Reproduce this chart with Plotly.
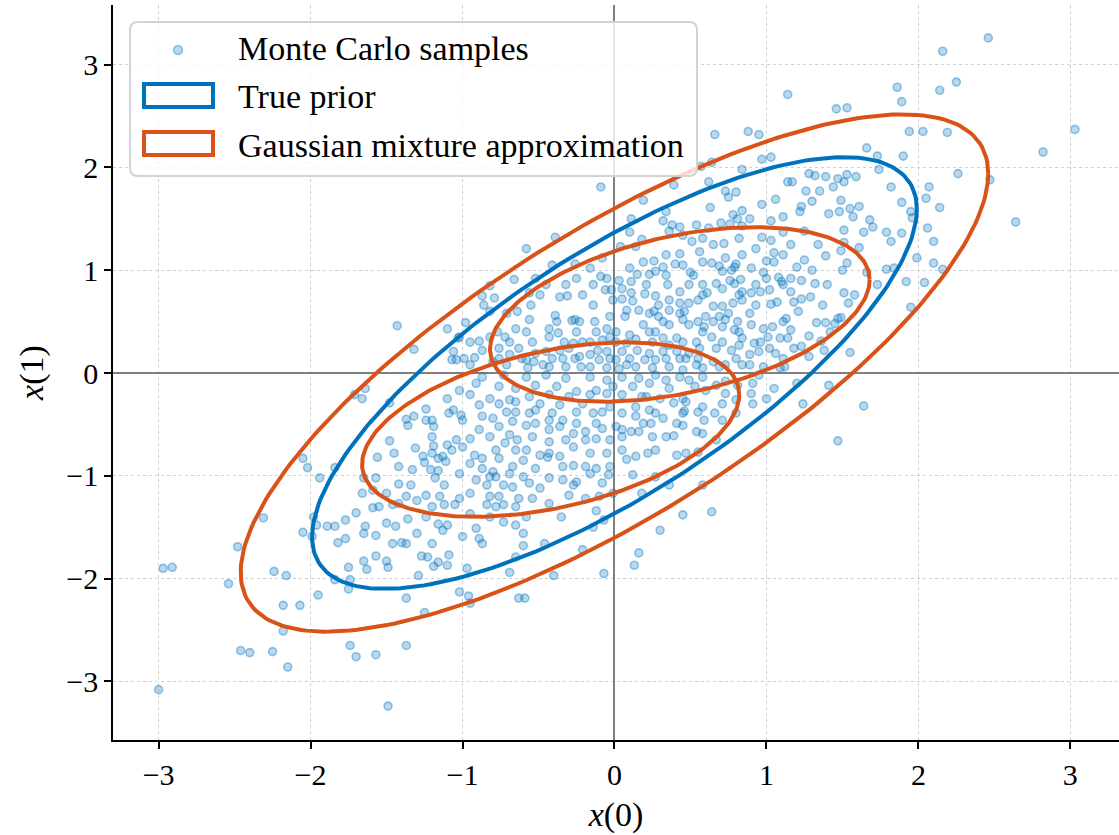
import numpy as np
import plotly.graph_objects as go

# ---------------- data ----------------
samples_outer = [(2.46,3.26),(2.16,3.13),(1.86,2.78),(1.89,2.64),(2.14,2.75),(2.25,2.83),(1.14,2.71),(1.46,2.57),(1.53,2.58),(1.94,2.35),(2.03,2.35),(2.19,2.34),(3.03,2.37),(2.82,2.15),(1.66,2.19),(1.73,2.11),(1.90,2.11),(1.74,1.98),(2.26,1.94),(2.47,1.88),(2.07,1.81),(1.82,1.81),(1.28,1.94),(1.32,1.92),(1.39,1.91),(1.47,1.89),(1.53,1.93),(1.59,1.91),(1.51,1.86),(1.17,1.86),(1.44,1.81),
(0.66,2.32),(0.88,2.35),(0.95,2.32),(0.97,2.08),(1.03,2.10),(0.57,2.01),(0.64,2.05),(0.84,1.98),(0.39,1.83),(0.62,1.86),(-0.09,1.81),(1.14,1.86),
(-1.43,0.46),(-1.32,0.23),(-1.10,0.43),(-1.07,0.13)]

samples_right = [(2.64,1.47),(2.14,1.61),(2.05,1.70),(1.89,1.66),(1.95,1.57),(1.96,1.51),(2.06,1.41),(2.10,1.28),(1.99,1.12),(2.10,1.07),(2.16,1.01),(2.04,0.88),(1.95,0.64),(1.92,0.89),(1.89,1.36),(1.79,1.37),(1.82,1.28),(1.79,1.01),(1.84,1.02),(1.73,0.86),(1.55,0.20),(1.68,1.49),(1.70,1.42),(1.64,1.37),(1.61,1.22),(1.66,0.98),(1.49,1.68),(1.55,1.60),(1.57,1.52),(1.61,1.62),(1.48,1.57),(1.41,1.55),(1.51,1.39),(1.51,1.27),(1.49,1.19),(1.39,1.14),(1.53,1.07),(1.50,1.00),(1.51,0.78),(1.54,0.68),(1.49,0.54),(1.37,0.66),(1.32,0.87),(1.30,1.00),(1.25,1.10),(1.20,1.03),(1.23,0.90),(1.29,0.74),(1.23,0.72),(1.18,0.69),(1.16,0.79),(1.16,1.25),(1.22,1.57),(1.23,1.62),(1.26,1.77),(1.30,1.67),(1.35,1.77),(1.13,0.53),(1.16,0.42),(1.14,0.34),(1.28,0.36),(1.33,0.49),(1.39,0.49),(1.36,0.31),(1.28,0.16),(1.18,0.24),(1.47,0.53),(1.12,0.06),(1.38,0.22),(1.23,0.26),(1.45,0.48),
(1.20,-0.10),(1.41,-0.12),(1.24,-0.30),(1.64,-0.32),(1.47,-0.66),
(1.34,1.25),(1.25,1.38),(1.40,0.86),(1.58,0.76),(1.42,0.40),(1.21,0.60),(1.16,0.92)]

samples_upper = [(0.73,1.77),(0.80,1.76),(0.75,1.71),(0.19,1.68),(0.63,1.61),(0.97,1.64),(1.06,1.69),(1.11,1.52),(0.84,1.58),(0.89,1.50),(0.81,1.50),(0.78,1.54),(0.34,1.57),(0.11,1.50),(0.32,1.48),(0.38,1.44),(0.43,1.42),(0.54,1.44),(0.62,1.41),(0.70,1.46),(0.76,1.45),(0.84,1.43),(1.03,1.48),(1.11,1.37),(0.97,1.32),(1.03,1.29),(-0.39,1.32),(-0.58,1.21),(0.10,1.37),(0.18,1.30),(0.04,1.23),(0.14,1.23),(0.36,1.38),(0.45,1.34),(0.51,1.28),(0.72,1.26),(0.58,1.31),(0.34,1.15),(0.43,1.16),(0.26,1.09),(0.32,1.03),(0.40,1.06),(0.50,0.98),(0.58,1.08),(0.64,1.07),(0.69,1.04),(0.73,1.12),(0.77,1.00),(0.79,1.03),(0.80,1.06),(0.84,1.15),(0.90,1.02),(1.05,1.08),(1.05,1.17),(1.00,1.09),(1.11,1.15),(0.98,0.98),(1.08,0.93),(1.11,0.86),(-0.41,1.05),(-0.26,1.06),(-0.66,0.91),(-0.82,0.85),(-0.87,0.75),(-0.79,0.73),(-0.86,0.66),(-0.56,0.78),(-0.49,0.76),(-0.36,0.74),(-0.31,0.75),(-0.09,0.94),(-0.06,0.81),(-0.02,0.81),(0.03,0.90),(0.11,0.89),(0.11,0.78),(0.05,0.72),(0.12,0.70),(0.20,0.77),(0.27,0.75),(0.35,0.86),(0.43,0.79),(0.23,0.96),(0.15,0.96),(0.27,0.99),(0.52,0.95),(0.58,0.86),(0.61,0.78),(0.67,0.87),(0.71,0.82),(0.76,0.90),(0.79,0.87),(0.83,0.91),(0.84,0.79),(0.90,0.78),(0.96,0.79),(1.02,0.81),(1.10,0.89),(1.07,0.69),(1.03,0.67),(0.93,0.66),(0.84,0.71),(0.78,0.68),(0.71,0.65),(0.65,0.65),(0.55,0.71),(0.49,0.68),(0.43,0.68),(0.43,0.58),(0.36,0.71),(0.36,0.61),(0.29,0.66),(0.23,0.58),(0.16,0.61),(0.08,0.61),(0.07,0.55),(-0.01,0.71),(-0.03,0.55),(-0.14,0.66),(-0.13,0.50),(-0.12,0.40),(-0.26,0.52),(-0.28,0.51),(-0.23,0.50),(-0.39,0.56),(-0.38,0.50),(-0.55,0.66),(-0.56,0.52),(-0.64,0.60),(-0.71,0.58),(-0.82,0.60),(-0.98,0.49),(-1.02,0.35),(-0.89,0.31),(-0.77,0.40),(-0.72,0.35),(-0.65,0.43),(-0.58,0.40),(-0.43,0.43),(-0.37,0.39),(-0.33,0.30),(-0.27,0.29),(-0.16,0.30),(-0.08,0.32),(-0.03,0.35),(0.01,0.30),(0.08,0.29),(0.14,0.33),(0.23,0.40),(0.27,0.40),(0.32,0.34),(0.41,0.34),(0.49,0.47),(0.59,0.45),(0.65,0.50),(0.73,0.52),(0.75,0.58),(0.81,0.50),(0.89,0.58),(0.98,0.43),(1.04,0.45),(1.11,0.50),(1.09,0.34),(1.02,0.24),(0.95,0.21),(0.89,0.18),(0.82,0.27),(0.77,0.22),(0.67,0.24),(0.64,0.35),(0.56,0.24),(0.55,0.14),(0.47,0.14),(0.41,0.21),(0.32,0.21),(0.23,0.19),(0.15,0.22),(0.10,0.14),(0.05,0.21),(-0.03,0.14),(-0.10,0.13),(-0.16,0.18),(-0.23,0.16),(-0.30,0.24),(-0.36,0.22),(-0.41,0.14),(-0.45,0.21),(-0.52,0.19),(-0.58,0.13),(-0.63,0.24),(-0.69,0.18),(-0.76,0.24),(-0.76,0.14),(-0.87,0.22),(-0.92,0.15),(-1.04,0.13),(-1.03,0.34),
(-0.57,0.05),(-0.43,0.06),(-0.32,0.06),(-0.16,0.06),(-0.05,0.05),(0.03,0.04),(0.14,0.06),(0.25,0.05),(0.36,0.06),(0.45,0.03),(0.58,0.05),(0.69,0.06),(0.84,0.08),(0.98,0.06),(1.09,0.05),(1.11,0.14)]

samples_core_extra = [(0.26,0.60),(0.29,0.55),(0.32,0.50),(0.36,0.47),(0.45,0.52),(0.46,0.60),(0.55,0.50),(0.60,0.55),(0.69,0.55),(0.71,0.45),(0.79,0.42),(0.84,0.34),(0.90,0.47),(0.92,0.29),(0.96,0.30),(1.01,0.35),(1.06,0.19),(0.89,0.08),(0.80,0.14),(0.73,0.08),(0.65,0.11),(0.54,0.08),(0.49,0.19),(0.43,0.14),(0.34,0.14),(0.27,0.13),(0.20,0.13),(0.08,0.08),(0.01,0.13),(-0.05,0.21),(-0.11,0.22),(-0.22,0.06),(-0.26,0.14),(-0.34,0.14),(-0.47,0.08),(-0.53,0.11),(-0.61,0.14),(-0.71,0.08),(-0.80,0.11),(-0.95,0.08),(-0.99,0.14),(-1.06,0.21),(-0.95,0.30),(-0.82,0.35),(-0.69,0.30),(-0.54,0.30),(-0.43,0.35),(-0.25,0.40),(-0.21,0.30),(-0.05,0.43),(0.01,0.40),(0.10,0.37),(0.19,0.47),(0.25,0.30),(0.36,0.27),(0.45,0.30),(0.54,0.30),(0.58,0.40),(0.71,0.30),(0.82,0.40),
(0.45,1.05),(0.56,1.18),(0.65,1.25),(0.71,0.99),(0.82,1.31),(0.93,1.21),(1.00,0.92),(0.93,0.86),(0.82,0.76),(0.58,0.76),(0.49,0.86),(0.34,0.95),(0.19,1.08),(0.10,1.02),(0.21,0.86),(0.05,0.82),(-0.05,0.92),(-0.14,0.86),(-0.21,0.76),(-0.32,0.86),(-0.45,0.86),(-0.52,0.92),(-0.16,1.02),(-0.08,1.12),(-0.25,0.92),
(-1.02,-0.17),(-0.91,-0.10),(-0.65,-0.28),(-0.49,-0.30),(-0.36,-0.31),(-0.21,-0.30),(-0.56,-0.39),(-0.71,-0.38),(-0.87,-0.42),(-0.43,-0.46),(-0.25,-0.49),(-0.12,-0.49),(-0.82,-0.62),(-0.69,-0.60),(-0.54,-0.62),(-0.32,-0.65),(-0.03,-0.65),(-0.65,-0.75),(-0.43,-0.78),(-0.16,-0.78),(-0.95,-0.88),(-0.27,-0.90),(-0.03,-0.91),(0.14,-0.81),(0.05,-0.62),(0.14,-0.42),(0.05,-0.39),(-0.03,-0.33),(0.27,-0.75),(0.34,-0.62),(0.41,-0.49),(0.58,-0.33),(0.71,-0.30),(0.45,-0.39),(0.27,-0.39),(0.21,-0.23),(0.34,-0.07),(0.49,-0.07),(-0.78,-1.01),(-0.60,-1.01),(-0.34,-1.04),(-0.65,-1.30),(-0.95,-1.37),(-0.82,-1.40),(-0.43,-1.27),
(-1.20,-0.62),(-1.26,-0.81),(-1.33,-0.94),(-1.42,-0.91),(-1.50,-1.17),(-1.37,-1.20),(-1.24,-1.40),(-1.50,-1.46),(-1.77,-1.43),(-1.46,-1.66),(-1.20,-1.66)]

samples_left = [(-1.64,-0.15),(-1.71,-0.21),(-1.66,-0.25),(-1.48,-0.29),(-1.24,-0.35),(-1.10,-0.25),(-1.09,-0.39),(-1.37,-0.45),(-1.32,-0.42),(-1.36,-0.51),(-1.24,-0.46),(-1.20,-0.46),(-1.19,-0.52),(-1.48,-0.66),(-1.31,-0.73),(-1.19,-0.71),(-1.20,-0.78),(-1.10,-0.70),(-1.13,-0.81),(-1.11,-0.86),(-1.16,-0.83),(-1.25,-0.87),(-1.21,-0.94),(-1.16,-0.95),(-1.18,-1.02),(-1.12,-1.09),(-2.05,-0.83),(-2.02,-0.92),(-1.84,-0.92),(-1.94,-1.02),(-1.65,-1.02),(-1.57,-1.02),(-1.56,-0.82),(-1.45,-0.78),(-1.42,-1.08),(-1.34,-1.09),(-1.66,-1.17),(-1.59,-1.14),(-1.30,-1.24),(-1.24,-1.19),(-1.15,-1.20),(-1.46,-1.28),(-1.42,-1.27),(-1.59,-1.31),(-1.55,-1.30),(-1.70,-1.36),(-1.36,-1.42),(-1.20,-1.30),(-1.12,-1.28),(-1.16,-1.47),(-1.10,-1.48),(-1.13,-1.53),(-1.44,-1.49),(-1.64,-1.49),(-1.89,-1.49),(-1.84,-1.49),(-1.65,-1.56),(-1.57,-1.58),(-1.30,-1.56),(-2.05,-1.55),(-1.99,-1.59),(-1.82,-1.65),(-1.77,-1.61),(-1.40,-1.65),(-1.37,-1.66),(-2.31,-1.41),(-2.48,-1.69),(-1.57,-1.78),(-1.27,-1.78),(-1.23,-1.79),(-1.09,-1.77),(-1.98,-1.40),(-1.96,-1.48)]

samples_lower = [(-0.87,-0.04),(-0.73,-0.02),(-0.58,-0.04),(-0.45,-0.02),(-0.32,-0.05),(-0.16,-0.04),(-0.05,-0.07),(0.05,-0.04),(0.16,-0.05),(0.27,-0.02),(0.43,-0.04),(0.58,-0.04),(0.73,-0.08),(0.95,-0.02),(0.91,-0.10),(1.05,-0.15),(0.81,-0.12),(0.67,-0.12),(0.53,-0.13),(0.36,-0.15),(0.23,-0.10),(0.12,-0.13),(-0.01,-0.13),(-0.12,-0.17),(-0.25,-0.18),(-0.38,-0.13),(-0.52,-0.12),(-0.65,-0.15),(-0.76,-0.13),(-0.95,-0.21),(-0.82,-0.25),(-0.69,-0.26),(-0.56,-0.23),(-0.43,-0.21),(-0.30,-0.23),(-0.16,-0.21),(-0.05,-0.20),(0.05,-0.21),(0.18,-0.23),(0.30,-0.25),(0.45,-0.25),(0.47,-0.28),(0.60,-0.17),(0.73,-0.20),(0.90,-0.20),(1.00,-0.25),(0.91,-0.30),(0.80,-0.26),
(-1.06,-0.36),(-1.00,-0.46),(-0.89,-0.31),(-0.76,-0.30),(-0.65,-0.38),(-0.52,-0.36),(-0.41,-0.39),(-0.34,-0.46),(-0.25,-0.38),(-0.14,-0.39),(-0.08,-0.38),(0.14,-0.33),(0.23,-0.36),(0.32,-0.44),(0.39,-0.29),(0.46,-0.37),(0.55,-0.38),(0.59,-0.46),(0.66,-0.39),(0.71,-0.46),(0.80,-0.39),(0.58,-0.59),(0.54,-0.57),(0.45,-0.51),(0.39,-0.61),(0.25,-0.62),(0.19,-0.49),(0.11,-0.57),(0.05,-0.55),(0.01,-0.52),(-0.08,-0.54),(-0.19,-0.57),(-0.27,-0.59),(-0.36,-0.52),(-0.43,-0.55),(-0.52,-0.49),(-0.58,-0.51),(-0.67,-0.47),(-0.76,-0.52),(-0.89,-0.55),(-0.95,-0.64),(-1.04,-0.65),(-0.80,-0.44),(-1.01,-0.41),(0.24,-0.49),(0.16,-0.57),
(-1.07,-0.75),(-1.00,-0.72),(-0.92,-0.80),(-0.87,-0.83),(-0.78,-0.75),(-0.72,-0.68),(-0.64,-0.65),(-0.58,-0.75),(-0.49,-0.80),(-0.43,-0.67),(-0.36,-0.81),(-0.27,-0.72),(-0.19,-0.65),(-0.12,-0.64),(-0.05,-0.78),(0.05,-0.75),(0.08,-0.84),(0.22,-0.78),(0.41,-0.80),(0.47,-0.78),(0.55,-0.77),(0.67,-0.65),(-0.87,-0.93),(-0.76,-0.83),(-0.67,-0.91),(-0.60,-0.85),(-0.52,-0.93),(-0.44,-0.82),(-0.34,-0.91),(-0.19,-0.91),(-0.12,-0.93),(-0.80,-0.96),(-0.69,-0.98),(-0.82,-1.01),
(-1.02,-0.98),(-0.91,-1.04),(-0.84,-1.09),(-0.73,-1.09),(-0.67,-1.11),(-0.56,-1.07),(-0.49,-1.12),(-0.43,-1.02),(-0.27,-1.09),(-0.25,-1.06),(-0.16,-0.98),(-0.08,-1.07),(-0.04,-0.99),(-0.01,-1.17),(0.12,-0.99),(0.18,-1.17),(0.27,-1.01),(0.36,-1.09),(0.58,-1.09),(-1.02,-1.22),(-0.95,-1.17),(-0.82,-1.20),(-0.76,-1.20),(-0.73,-1.28),(-0.63,-1.22),(-0.54,-1.22),(-0.30,-1.19),(-0.19,-1.22),(-0.10,-1.20),(-1.05,-1.28),(-0.84,-1.28),(-0.78,-1.30),
(-1.00,-1.59),(-0.91,-1.51),(-0.89,-1.61),(-0.87,-1.66),(-0.73,-1.45),(-0.65,-1.48),(-0.60,-1.56),(-0.58,-1.40),(-0.35,-1.40),(-0.12,-1.34),(-0.07,-1.43),(-0.14,-1.50),(-0.21,-1.72),(0.16,-1.75),(0.30,-1.53),(0.45,-1.38),(0.64,-1.35),(-0.60,-1.68),(-0.46,-1.66),(-0.65,-1.79)]

samples_tail = [(-2.97,-1.90),(-2.91,-1.89),(-2.54,-2.05),(-2.24,-1.93),(-2.16,-1.97),(-2.18,-2.26),(-2.07,-2.26),(-1.95,-2.16),(-2.18,-2.51),(-2.46,-2.70),(-2.40,-2.72),(-2.25,-2.71),(-2.15,-2.86),(-3.00,-3.08),(-1.75,-1.89),(-1.65,-1.83),(-1.50,-1.83),(-1.49,-1.89),(-1.63,-1.91),(-1.84,-2.01),(-1.74,-2.01),(-1.75,-2.10),(-1.37,-2.19),(-1.25,-2.33),(-1.74,-2.65),(-1.70,-2.76),(-1.57,-2.74),(-1.37,-2.65),(-1.49,-3.24),(-1.29,-1.97),(-1.19,-1.88),(-1.16,-1.84),(-1.10,-1.87),
(-0.97,-1.90),(-0.69,-1.94),(-1.02,-2.13),(-0.96,-2.17),(-0.95,-2.24),(-0.63,-2.19),(-0.59,-2.19),(-0.40,-1.97),(-0.07,-1.95),(0.13,-1.87)]

# ellipse parameters: centre and (scaled) covariance of each contour
prior_center = (0.0, 0.0)
prior_cov = [[3.96, 3.17], [3.17, 4.41]]
mixture_centers = [(0.0, 0.0), (0.43, 0.57), (-0.42, -0.55)]
mixture_covs = [[[6.05, 4.77], [4.77, 6.33]],
                [[1.56, 0.42], [0.42, 0.72]],
                [[1.54, 0.42], [0.42, 0.72]]]

tick_vals = [-3, -2, -1, 0, 1, 2, 3]
legend_labels = ["Monte Carlo samples", "True prior", "Gaussian mixture approximation"]

BLUE = "#0072BD"
ORANGE = "#D95319"
PT_FILL = "rgba(0,114,189,0.28)"
PT_EDGE = "rgba(0,114,189,0.38)"
FONT = '"Liberation Serif", "Times New Roman", serif'

# ---------------- figure ----------------
all_samples = (samples_outer + samples_right + samples_upper + samples_core_extra
               + samples_left + samples_lower + samples_tail)
sx = [p[0] for p in all_samples]
sy = [p[1] for p in all_samples]

def ellipse(center, cov, n=241):
    L = np.linalg.cholesky(np.array(cov))
    t = np.linspace(0, 2 * np.pi, n)
    pts = L @ np.vstack([np.cos(t), np.sin(t)])
    return pts[0] + center[0], pts[1] + center[1]

fig = go.Figure()
fig.add_trace(go.Scatter(
    x=sx, y=sy, mode="markers", name=legend_labels[0], showlegend=False,
    marker=dict(size=8, color=PT_FILL, line=dict(color=PT_EDGE, width=1.6)),
))
ex, ey = ellipse(prior_center, prior_cov)
fig.add_trace(go.Scatter(x=ex, y=ey, mode="lines", name=legend_labels[1], showlegend=False,
                         line=dict(color=BLUE, width=4)))
for c, cv in zip(mixture_centers, mixture_covs):
    ex, ey = ellipse(c, cv)
    fig.add_trace(go.Scatter(x=ex, y=ey, mode="lines", name=legend_labels[2], showlegend=False,
                             line=dict(color=ORANGE, width=4)))

axis_common = dict(
    tickvals=tick_vals, showgrid=True, gridcolor="#cfcfcf", griddash="dot", gridwidth=1,
    zeroline=True, zerolinecolor="#808080", zerolinewidth=2,
    showline=True, linecolor="black", linewidth=1.5,
    ticks="outside", ticklen=7, tickwidth=1.5, tickcolor="black",
    tickfont=dict(size=30),
)
fig.update_xaxes(range=[-3.30, 3.32], title=dict(text="<i>x</i>(0)", font=dict(size=34), standoff=12), **axis_common)
fig.update_yaxes(range=[-3.57, 3.58], title=dict(text="<i>x</i>(1)", font=dict(size=34), standoff=12), **axis_common)

# ---- legend drawn by hand (matplotlib-style patches) ----
ML, MT, PW, PH = 113, 5, 1006, 735   # plot-area geometry in pixels
def px(x):
    return (x - ML) / PW
def py(y):
    return 1 - (y - MT) / PH

shapes = []
bx0, bx1, by0, by1, r = 130, 697, 22, 176, 8
path = (f"M {px(bx0 + r)},{py(by0)} L {px(bx1 - r)},{py(by0)} "
        f"Q {px(bx1)},{py(by0)} {px(bx1)},{py(by0 + r)} L {px(bx1)},{py(by1 - r)} "
        f"Q {px(bx1)},{py(by1)} {px(bx1 - r)},{py(by1)} L {px(bx0 + r)},{py(by1)} "
        f"Q {px(bx0)},{py(by1)} {px(bx0)},{py(by1 - r)} L {px(bx0)},{py(by0 + r)} "
        f"Q {px(bx0)},{py(by0)} {px(bx0 + r)},{py(by0)} Z")
shapes.append(dict(type="path", xref="paper", yref="paper", path=path, layer="above",
                   fillcolor="rgba(255,255,255,0.8)", line=dict(color="#d2d2d2", width=2)))
shapes.append(dict(type="circle", xref="paper", yref="paper", layer="above",
                   x0=px(173.5), x1=px(182.5), y0=py(45.5), y1=py(54.5),
                   fillcolor=PT_FILL, line=dict(color=PT_EDGE, width=1.6)))
for (y0, y1), col in [((84, 107), BLUE), ((132, 155), ORANGE)]:
    shapes.append(dict(type="rect", xref="paper", yref="paper", layer="above",
                       x0=px(144), x1=px(213), y0=py(y0), y1=py(y1),
                       fillcolor="rgba(255,255,255,0)", line=dict(color=col, width=4)))

annotations = []
for lab, yc in zip(legend_labels, [48, 96.5, 145]):
    annotations.append(dict(text=lab, xref="paper", yref="paper", x=px(236), y=py(yc),
                            xanchor="left", yanchor="middle", showarrow=False,
                            font=dict(size=34, family=FONT, color="black")))

fig.update_layout(
    width=1119, height=835,
    margin=dict(l=ML, r=0, t=MT, b=95),
    plot_bgcolor="white", paper_bgcolor="white",
    font=dict(family=FONT, size=30, color="black"),
    showlegend=False,
    shapes=shapes, annotations=annotations,
)

fig.write_html("out.html")
